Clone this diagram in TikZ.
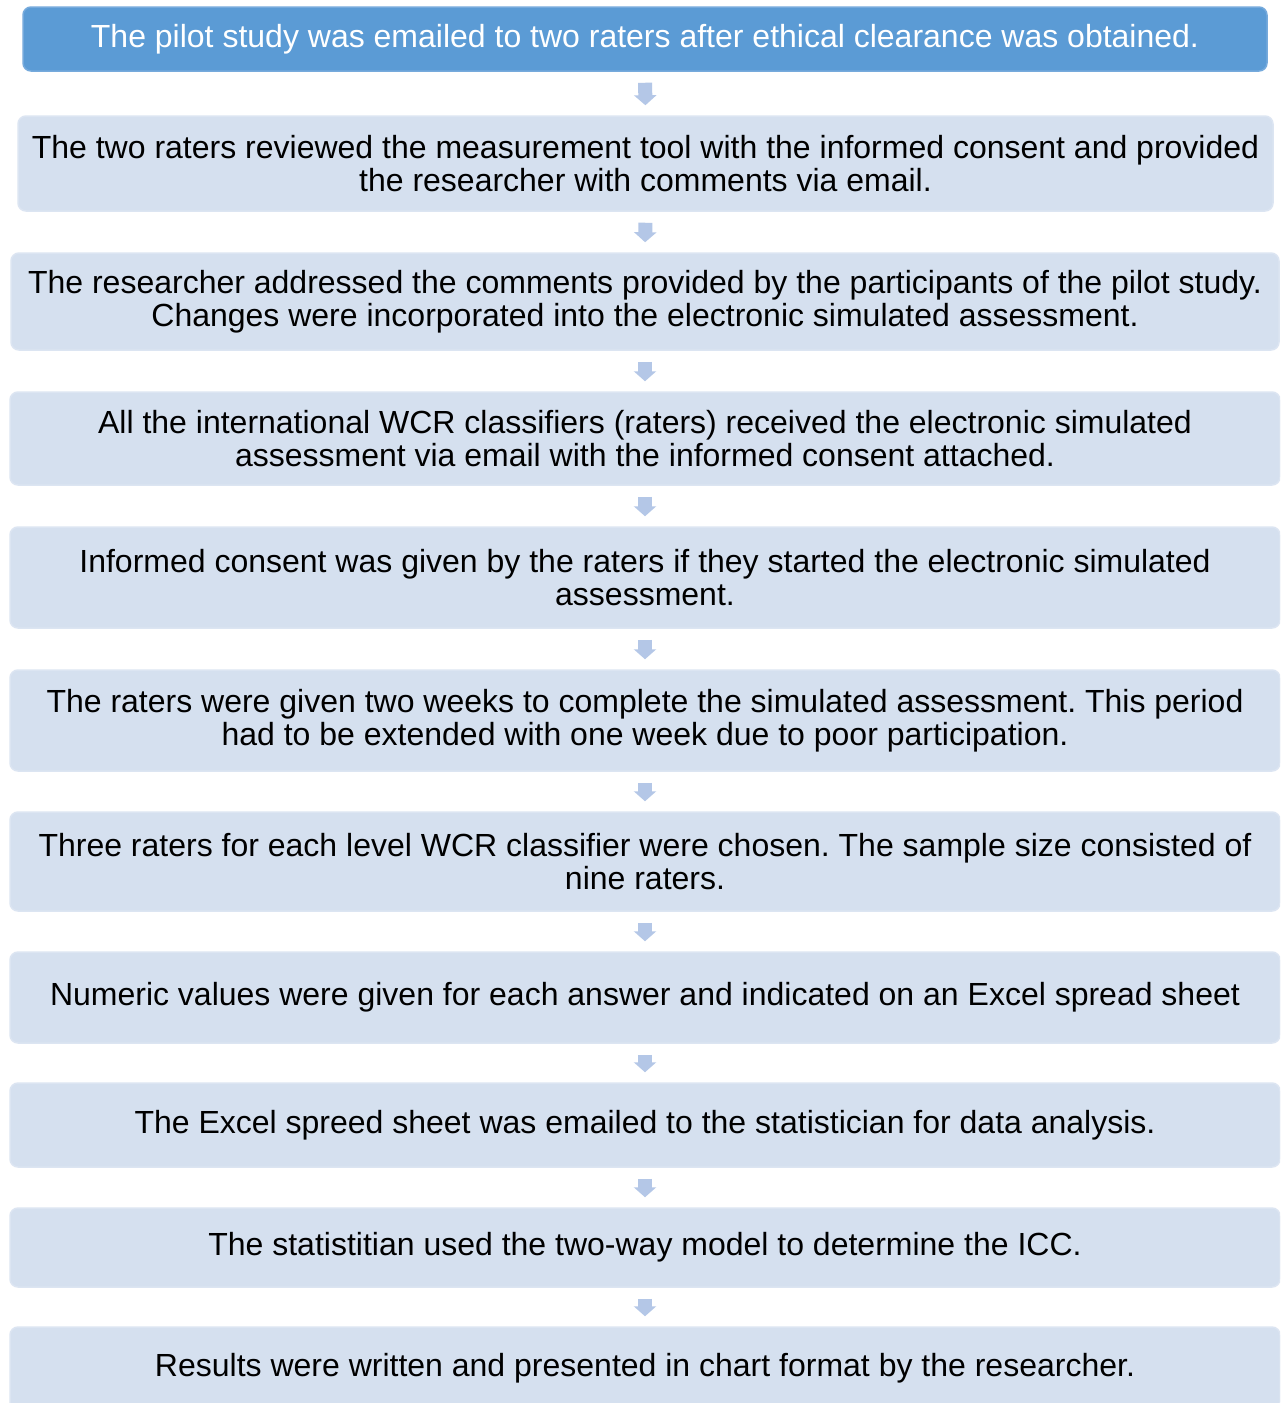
\documentclass[tikz,border=0pt]{standalone}
\usepackage{fontspec}
\setmainfont{Liberation Sans}
\usetikzlibrary{arrows.meta}
\frenchspacing
\definecolor{topfill}{HTML}{5B9BD5}
\definecolor{topedge}{HTML}{76AADC}
\definecolor{boxfill}{HTML}{D5E0EF}
\definecolor{boxedge}{HTML}{DCE5F2}
\definecolor{arrowc}{HTML}{B4C7E7}
\tikzset{
  stepbox/.style={draw=boxedge, fill=boxfill, line width=0.75pt, rounded corners=4pt,
    align=center, inner sep=0pt, font=\fontsize{16pt}{16.5pt}\selectfont, text=black},
  topbox/.style={stepbox, draw=topedge, fill=topfill, text=white},
  flowarrow/.style={draw=arrowc, line width=7pt,
    -{Triangle[width=11pt,length=5pt]}, shorten <=5.5pt, shorten >=5pt}
}
\begin{document}
\begin{tikzpicture}[x=0.5pt,y=-0.5pt]
\clip (0,0) rectangle (1280,1403);
\fill[white] (0,0) rectangle (1280,1403);
\node[topbox, minimum width=622pt, minimum height=32pt] (b1) at (645,39)
  {The pilot study was emailed to two raters after ethical clearance was obtained.};
\node[stepbox, minimum width=627.5pt, minimum height=47.5pt] (b2) at (645.5,163.5)
  {The two raters reviewed the measurement tool with the informed consent and provided\\the researcher with comments via email.};
\node[stepbox, minimum width=634pt, minimum height=48.5pt] (b3) at (645,301.5)
  {The researcher addressed the comments provided by the participants of the pilot study.\\Changes were incorporated into the electronic simulated assessment.};
\node[stepbox, minimum width=635pt, minimum height=46.5pt] (b4) at (645,438.5)
  {All the international WCR classifiers (raters) received the electronic simulated\\assessment via email with the informed consent attached.};
\node[stepbox, minimum width=635pt, minimum height=50.5pt] (b5) at (645,577.5)
  {Informed consent was given by the raters if they started the electronic simulated\\assessment.};
\node[stepbox, minimum width=635pt, minimum height=50.5pt] (b6) at (645,720.5)
  {The raters were given two weeks to complete the simulated assessment. This period\\had to be extended with one week due to poor participation.};
\node[stepbox, minimum width=635pt, minimum height=49.5pt] (b7) at (645,861.5)
  {Three raters for each level WCR classifier were chosen. The sample size consisted of\\nine raters.};
\node[stepbox, minimum width=635pt, minimum height=45.5pt] (b8) at (645,997.5)
  {Numeric values were given for each answer and indicated on an Excel spread sheet};
\node[stepbox, minimum width=635pt, minimum height=42pt] (b9) at (645,1125)
  {The Excel spreed sheet was emailed to the statistician for data analysis.};
\node[stepbox, minimum width=635pt, minimum height=39.5pt] (b10) at (645,1247.5)
  {The statistitian used the two-way model to determine the ICC.};
\node[stepbox, minimum width=635pt, minimum height=41.5pt] (b11) at (645,1368.5)
  {Results were written and presented in chart format by the researcher.};
\foreach \a/\b in {b1/b2,b2/b3,b3/b4,b4/b5,b5/b6,b6/b7,b7/b8,b8/b9,b9/b10,b10/b11}
  \draw[flowarrow] (\a.south) -- (\b.north);
\end{tikzpicture}
\end{document}
